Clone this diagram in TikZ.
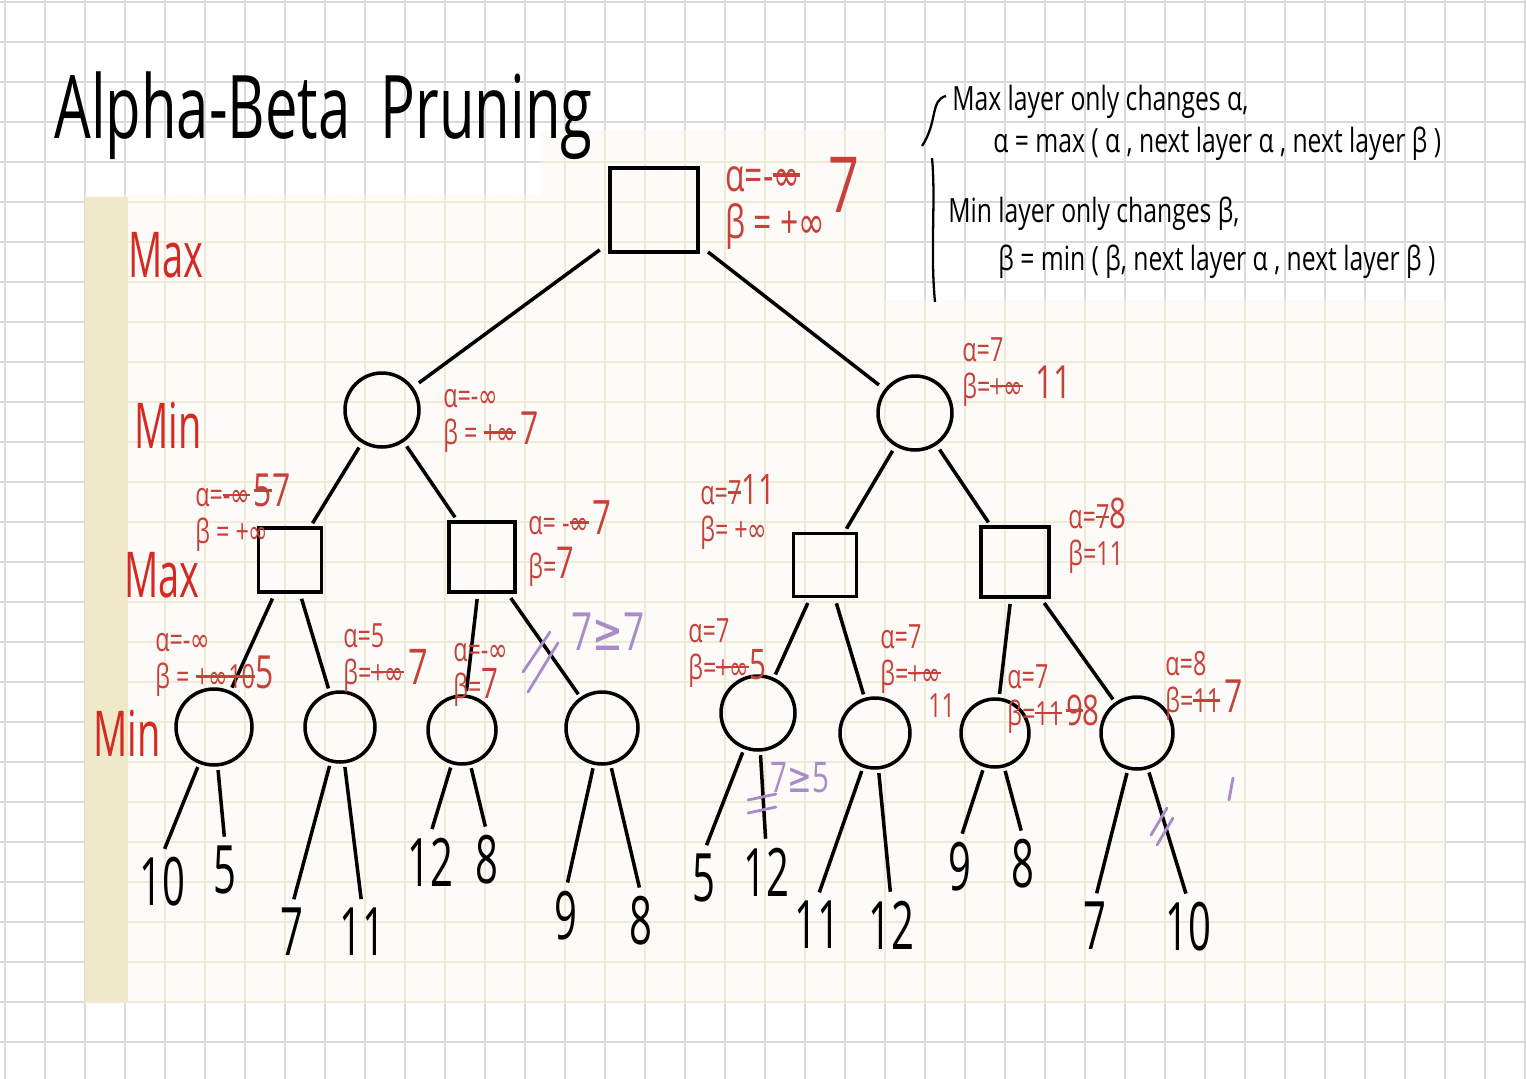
\documentclass[tikz,border=0pt]{standalone}
\usepackage{fontspec}
\setmainfont{Open Sans}
\newfontfamily\dvf{DejaVu Sans}
\usepackage{graphicx}
\newcommand\inff{{\dvf ∞}}
\newcommand\gequ{{\dvf ≥}}
\newcommand\hw[1]{\scalebox{0.7}[1]{#1}}
\newcommand\hn[1]{\scalebox{0.74}[1]{#1}}
\newcommand\strk[1]{\setbox0\hbox{#1}\rlap{\copy0}\rule[0.6ex]{\wd0}{0.07em}}
\newcommand\bgd[2]{{\fontsize{#1}{#1}\selectfont #2}}
\definecolor{annred}{HTML}{C8403A}
\definecolor{labred}{HTML}{D42A22}
\definecolor{purp}{HTML}{A88BC9}
\definecolor{outgrid}{HTML}{DADADA}
\definecolor{ingrid}{HTML}{EFE9DA}
\definecolor{paper}{HTML}{FCFBF8}
\definecolor{strip}{HTML}{EFE8C9}
\tikzset{
  edge/.style={line width=2pt, black},
  sq/.style={draw, line width=2pt, inner sep=0pt},
  cir/.style={draw, circle, line width=2pt, inner sep=0pt},
  ann/.style={text=annred, font=\fontsize{19}{21}\selectfont, inner sep=0pt, anchor=north west, align=left},
  lab/.style={text=labred, font=\fontsize{36}{38}\selectfont, inner sep=0pt},
  leaf/.style={font=\fontsize{38}{40}\selectfont, inner sep=1pt},
  note/.style={font=\fontsize{19}{21}\selectfont, inner sep=0pt, anchor=base west},
  pmark/.style={purp, line width=1.6pt, line cap=round},
}
\begin{document}
\begin{tikzpicture}[x=0.02cm,y=-0.02cm]
% background
\fill[white] (0,0) rectangle (1526,1079);
\useasboundingbox (0,0) rectangle (1526,1079);
\foreach \x in {5,45,...,1525} \draw[outgrid, line width=0.6pt] (\x,0) -- (\x,1079);
\foreach \y in {2,42,...,1078} \draw[outgrid, line width=0.6pt] (0,\y) -- (1526,\y);
% pasted paper
\fill[paper] (85,195) -- (540,195) -- (540,130) -- (885,130) -- (885,300) -- (1445,300) -- (1445,1003) -- (85,1003) -- cycle;
\begin{scope}
\clip (85,195) -- (540,195) -- (540,130) -- (885,130) -- (885,300) -- (1445,300) -- (1445,1003) -- (85,1003) -- cycle;
\foreach \x in {5,45,...,1525} \draw[ingrid, line width=0.6pt] (\x,0) -- (\x,1079);
\foreach \y in {2,42,...,1078} \draw[ingrid, line width=0.6pt] (0,\y) -- (1526,\y);
\end{scope}
\fill[strip] (85,197) rectangle (128,1002);

% title
\node[anchor=base west, inner sep=0pt, font=\fontsize{50}{52}\selectfont] (title) at (54,138) {\scalebox{0.66}[1]{Alpha-Beta\ \ Pruning}};

% notes
\draw[line width=1.3pt] (946,96) .. controls (930,100) and (938,122) .. (922,146);
\draw[line width=1.3pt] (932,158) .. controls (936,200) and (930,250) .. (935,302);
\node[note] (n1) at (952,110) {\hn{Max layer only changes α,}};
\node[note] (n2) at (993,152) {\hn{α = max ( α , next layer α , next layer β )}};
\node[note] (n3) at (948,222) {\hn{Min layer only changes β,}};
\node[note] (n4) at (998,270) {\hn{β = min ( β, next layer α , next layer β )}};

% layer labels
\node[lab] (L1) at (166,255) {\scalebox{0.6}[1]{Max}};
\node[lab] (L2) at (168,425) {\scalebox{0.6}[1]{Min}};
\node[lab] (L3) at (162,575) {\scalebox{0.6}[1]{Max}};
\node[lab] (L4) at (127,733) {\scalebox{0.6}[1]{Min}};

% tree nodes
\node[sq, minimum width=1.76cm, minimum height=1.68cm] (root) at (654,210) {};
\node[cir, minimum size=1.48cm] (m1) at (382,410) {};
\node[cir, minimum size=1.48cm] (m2) at (915,413) {};
\node[sq, minimum width=1.26cm, minimum height=1.28cm] (A) at (290,560) {};
\node[sq, minimum width=1.32cm, minimum height=1.40cm] (B) at (482,557) {};
\node[sq, minimum width=1.26cm, minimum height=1.26cm] (C) at (825,565) {};
\node[sq, minimum width=1.36cm, minimum height=1.40cm] (D) at (1015,562) {};
\node[cir, minimum size=1.52cm] (c1) at (214,727) {};
\node[cir, minimum size=1.40cm] (c2) at (340,727) {};
\node[cir, minimum size=1.36cm] (c3) at (462,730) {};
\node[cir, minimum size=1.44cm] (c4) at (602,728) {};
\node[cir, minimum size=1.48cm] (c5) at (758,713) {};
\node[cir, minimum size=1.40cm] (c6) at (875,733) {};
\node[cir, minimum size=1.36cm] (c7) at (995,733) {};
\node[cir, minimum size=1.44cm] (c8) at (1137,733) {};

% leaves
\node[leaf] (l1) at (162,882) {\scalebox{0.6}[1]{10}};
\node[leaf] (l2) at (225,870) {\scalebox{0.6}[1]{5}};
\node[leaf] (l3) at (292,932) {\scalebox{0.6}[1]{7}};
\node[leaf] (l4) at (362,932) {\scalebox{0.6}[1]{11}};
\node[leaf] (l5) at (430,862) {\scalebox{0.6}[1]{12}};
\node[leaf] (l6) at (487,860) {\scalebox{0.6}[1]{8}};
\node[leaf] (l7) at (566,916) {\scalebox{0.6}[1]{9}};
\node[leaf] (l8) at (641,921) {\scalebox{0.6}[1]{8}};
\node[leaf] (l9) at (704,878) {\scalebox{0.6}[1]{5}};
\node[leaf] (l10) at (766,872) {\scalebox{0.6}[1]{12}};
\node[leaf] (l11) at (817,925) {\scalebox{0.6}[1]{11}};
\node[leaf] (l12) at (891,925) {\scalebox{0.6}[1]{12}};
\node[leaf] (l13) at (960,867) {\scalebox{0.6}[1]{9}};
\node[leaf] (l14) at (1023,864) {\scalebox{0.6}[1]{8}};
\node[leaf] (l15) at (1095,926) {\scalebox{0.6}[1]{7}};
\node[leaf] (l16) at (1188,927) {\scalebox{0.6}[1]{10}};

% edges
\draw[edge, shorten <=6pt, shorten >=4pt] (root) -- (m1);
\draw[edge, shorten <=6pt, shorten >=4pt] (root) -- (m2);
\draw[edge, shorten <=3pt, shorten >=2pt] (m1) -- (A);
\draw[edge, shorten <=3pt, shorten >=2pt] (m1) -- (B);
\draw[edge, shorten <=3pt, shorten >=2pt] (m2) -- (C);
\draw[edge, shorten <=3pt, shorten >=2pt] (m2) -- (D);
\draw[edge, shorten <=3pt, shorten >=2pt] (A) -- (c1);
\draw[edge, shorten <=3pt, shorten >=2pt] (A) -- (c2);
\draw[edge, shorten <=3pt, shorten >=2pt] (B) -- (c3);
\draw[edge, shorten <=3pt, shorten >=2pt] (B) -- (c4);
\draw[edge, shorten <=3pt, shorten >=2pt] (C) -- (c5);
\draw[edge, shorten <=3pt, shorten >=2pt] (C) -- (c6);
\draw[edge, shorten <=3pt, shorten >=2pt] (D) -- (c7);
\draw[edge, shorten <=3pt, shorten >=2pt] (D) -- (c8);
\foreach \c/\a/\b in {c1/l1/l2, c2/l3/l4, c3/l5/l6, c4/l7/l8, c5/l9/l10, c6/l11/l12, c7/l13/l14, c8/l15/l16}{
  \draw[edge, shorten <=2pt, shorten >=4pt] (\c) -- (\a.north);
  \draw[edge, shorten <=2pt, shorten >=4pt] (\c) -- (\b.north);
}

% red annotations (two lines each)
\node[ann, font=\fontsize{26}{27}\selectfont] (r1) at (725,166) {\hw{α=-\strk{\inff}}\\\hw{β = +\inff}};
\node[ann, anchor=west, font=\fontsize{44}{44}\selectfont] (r1c) at (828,185) {\hw{7}};
\node[ann] (m1n) at (443,389) {\hw{α=-\inff}\\\hw{β = \strk{+\inff}\,\bgd{26}{7}}};
\node[ann] (m2n) at (962,337) {\hw{α=7}\\\hw{β=\strk{+\inff}\ \ \bgd{26}{11}}};
\node[ann] (An) at (195,474) {\hw{α=\strk{-\inff}\,\bgd{26}{\strk{5}7}}\\\hw{β = +\inff}};
\node[ann] (Bn) at (528,500) {\hw{α= -\strk{\inff}\,\bgd{27}{7}}\\[4pt]\hw{β=\bgd{25}{7}}};
\node[ann] (Cn) at (700,474) {\hw{α=\strk{7}\bgd{24}{11}}\\\hw{β= +\inff}};
\node[ann] (Dn) at (1068,498) {\hw{α=\strk{7}\bgd{24}{8}}\\\hw{β=11}};
\node[ann] (c1n) at (155,633) {\hw{α=-\inff}\\\hw{β = \strk{+\inff}\strk{10}\bgd{26}{5}}};
\node[ann] (c2n) at (343,623) {\hw{α=5}\\\hw{β=\strk{+\inff}\,\bgd{28}{7}}};
\node[ann] (c3n) at (453,643) {\hw{α=-\inff}\\\hw{β=\bgd{24}{7}}};
\node[ann] (c5n) at (688,618) {\hw{α=7}\\\hw{β=\strk{+\inff}\bgd{24}{5}}};
\node[ann] (c6n) at (880,624) {\hw{α=7}\\\hw{β=\strk{+\inff}}};
\node[ann, anchor=west] (c6c) at (928,706) {\hw{11}};
\node[ann] (c7n) at (1007,664) {\hw{α=7}\\\hw{β=\strk{11}\,\bgd{24}{\strk{9}8}}};
\node[ann] (c8n) at (1165,651) {\hw{α=8}\\\hw{β=\strk{11}\,\bgd{26}{7}}};

% purple marks
\node[text=purp, font=\fontsize{30}{32}\selectfont, inner sep=0pt] (p1) at (608,632) {\hw{7\gequ 7}};
\draw[pmark] (550,632) -- (523,672);
\draw[pmark] (558,643) -- (528,692);
\node[text=purp, font=\fontsize{24}{26}\selectfont, inner sep=0pt] (p2) at (800,778) {\hw{7\gequ 5}};
\draw[pmark] (748,800) -- (776,794);
\draw[pmark] (748,813) -- (776,807);
\draw[pmark] (1151,835) -- (1167,808);
\draw[pmark] (1157,845) -- (1173,818);
\draw[pmark] (1233,778) -- (1229,800);
\end{tikzpicture}
\end{document}
